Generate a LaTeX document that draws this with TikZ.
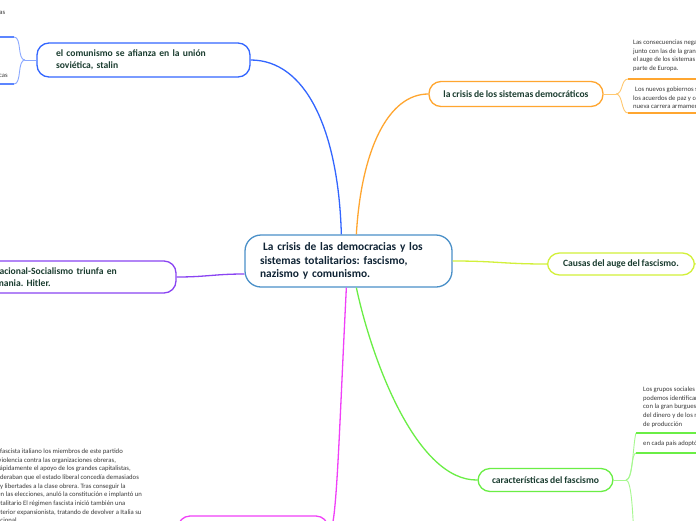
\documentclass[tikz,border=0pt]{standalone}
\usepackage{fontspec}
\setmainfont{Carlito}
\frenchspacing
\definecolor{centralblue}{HTML}{4A90C8}
\definecolor{centraltext}{HTML}{102435}
\definecolor{nodetext}{HTML}{1B3D30}
\definecolor{smalltext}{HTML}{3A3A3A}
\definecolor{cblue}{HTML}{3366FF}
\definecolor{cbluel}{HTML}{8AA8FF}
\definecolor{corange}{HTML}{FFA630}
\definecolor{corangel}{HTML}{FFC870}
\definecolor{cyellow}{HTML}{D2F03A}
\definecolor{cpurple}{HTML}{8A44F2}
\definecolor{cmagenta}{HTML}{F040F8}
\definecolor{cgreen}{HTML}{6AEE45}
\definecolor{cgreenl}{HTML}{A6F88F}
\tikzset{
  topic/.style={draw, fill=white, rounded corners=12pt, line width=1.3pt,
    font={\fontsize{9.6}{12}\selectfont\bfseries\spaceskip=0.19em\relax}, text=nodetext, inner ysep=0pt},
  smalltxt/.style={font=\fontsize{6.7}{8.7}\selectfont, text=smalltext, inner sep=0pt, align=left},
  conn/.style={line width=1.3pt},
  subconn/.style={line width=0.9pt},
  uline/.style={line width=2.6pt}
}
\begin{document}
\begin{tikzpicture}[x=1pt,y=-1pt]
\useasboundingbox (0,0) rectangle (696,520);
\fill[white] (0,0) rectangle (696,520);

% ---- nodes
\node[topic, draw=centralblue, rounded corners=16pt, font={\fontsize{11.4}{13.3}\selectfont\bfseries\spaceskip=0.21em\relax},
      text=centraltext, text width=177pt, inner xsep=15pt, minimum height=52pt, align=left]
      (central) at (348.5,261) {\hspace*{3pt}La crisis de las democracias y los\\sistemas totalitarios: fascismo,\\nazismo y comunismo.};

\node[topic, draw=cblue, text width=175pt, inner xsep=19pt, minimum height=34pt, align=left]
      (comm) at (143.5,60) {el comunismo se afianza en la unión\\soviética, stalin};

\node[topic, draw=corange, minimum width=174pt, minimum height=25pt, align=center]
      (dem) at (516,94) {la crisis de los sistemas democráticos};

\node[topic, draw=cyellow, minimum width=147pt, minimum height=22pt, align=center]
      (causas) at (621,264) {Causas del auge del fascismo.};

\node[topic, draw=cgreen, minimum width=135pt, minimum height=23pt, align=center]
      (carac) at (545.5,480) {características del fascismo};

\node[topic, draw=cpurple, text width=174pt, inner xsep=19pt, minimum height=32pt, align=left]
      (nazi) at (70,277) {El Nacional-Socialismo triunfa en\\Alemania. Hitler.};

\node[topic, draw=cmagenta, minimum width=150pt, minimum height=34pt]
      (ital) at (253,533) {};

% ---- main connectors
\draw[conn, cblue] ([xshift=97pt]central.north west) .. controls +(-3,-105) and +(55,0) .. (comm.east);
\draw[conn, corange] ([xshift=112pt]central.north west) .. controls +(5,-85) and +(-40,0) .. (dem.west);
\draw[conn, cyellow] (central.east) .. controls +(45,0) and +(-45,0) .. (causas.west);
\draw[conn, cpurple] ([yshift=-13pt]central.west) .. controls +(-30,0) and +(30,0) .. (nazi.east);
\draw[conn, cmagenta] ([xshift=102pt]central.south west) .. controls +(-8,160) and +(8,0) .. (ital.east);
\draw[conn, cgreen] ([xshift=112pt]central.south west) .. controls (373,365) and (418,481) .. (carac.west);

% ---- blue sub-branches
\coordinate (bj) at (25,60);
\coordinate (b1) at (14,37);
\coordinate (b2) at (14,84);
\coordinate (b1e) at (0,37);
\coordinate (b2e) at (0,84);
\draw[subconn, cbluel] (comm.west) -- (bj);
\draw[subconn, cbluel] (bj) .. controls +(-8,0) and +(8,0) .. (b1);
\draw[subconn, cbluel] (bj) .. controls +(-8,0) and +(8,0) .. (b2);
\draw[uline, cblue!80] (b1e) -- (b1);
\draw[uline, cblue!80] (b2e) -- (b2);
\node[smalltxt, anchor=base east] (t1) at (5.5,14) {económicas};
\node[smalltxt, anchor=base east] (t2) at (8,77) {políticas};

% ---- orange sub-branches
\coordinate (oj) at (616,94);
\coordinate (o1) at (628,79);
\coordinate (o2) at (628,113);
\coordinate (o1e) at (697,79);
\coordinate (o2e) at (697,113);
\draw[subconn, corangel] (dem.east) -- (oj);
\draw[subconn, corangel] (oj) .. controls +(7,0) and +(-7,0) .. (o1);
\draw[subconn, corangel] (oj) .. controls +(7,0) and +(-7,0) .. (o2);
\draw[uline, corange] (o1) -- (o1e);
\draw[uline, corange] (o2) -- (o2e);
\node[smalltxt, anchor=north west] (ot1) at (633,39.5)
  {Las consecuencias negativas de la guerra\\junto con las de la gran depresión\\el auge de los sistemas totalitarios en gran\\parte de Europa.};
\node[smalltxt, anchor=north west] (ot2) at (633,86.5)
  {\hspace*{2pt}Los nuevos gobiernos surgidos\\los acuerdos de paz y comenzaron\\nueva carrera armamentística};

% ---- yellow continuation
\coordinate (ye) at (700,263);
\draw[subconn, cyellow] (causas.east) -- (ye);

% ---- green sub-branches
\coordinate (gj) at (626,480);
\coordinate (g1) at (636,433);
\coordinate (g2) at (636,453);
\coordinate (g3) at (634,540);
\coordinate (g1e) at (697,433);
\coordinate (g2e) at (697,453);
\draw[subconn, cgreenl] (carac.east) -- (gj);
\draw[subconn, cgreenl] (gj) .. controls +(7,0) and +(-3,10) .. (g1);
\draw[subconn, cgreenl] (gj) .. controls +(7,0) and +(-5,0) .. (g2);
\draw[subconn, cgreenl] (gj) .. controls +(6,0) and +(-1,-20) .. (g3);
\draw[uline, cgreen] (g1) -- (g1e);
\draw[uline, cgreen] (g2) -- (g2e);
\node[smalltxt, anchor=north west] (gt1) at (643,386.5)
  {Los grupos sociales que\\podemos identificar\\con la gran burguesía\\del dinero y de los medios\\de producción};
\node[smalltxt, anchor=north west] (gt2) at (643,441) {en cada país adoptó};

% ---- bottom-left text (cut by the page edge)
\node[smalltxt, anchor=north west] (it) at (0,448.5)
  {fascista italiano los miembros de este partido\\
   \hspace*{-1.7pt}violencia contra las organizaciones obreras,\\
   \hspace*{-2.8pt}rápidamente el apoyo de los grandes capitalistas,\\
   \hspace*{-14pt}consideraban que el estado liberal concedía demasiados\\
   \hspace*{-26.5pt}derechos y libertades a la clase obrera. Tras conseguir la\\
   \hspace*{-2.8pt}en las elecciones, anuló la constitución e implantó un\\
   \hspace*{-5.5pt}totalitario El régimen fascista inició también una\\
   \hspace*{-6pt}exterior expansionista, tratando de devolver a Italia su\\
   \hspace*{-6.5pt}nacional};
\end{tikzpicture}
\end{document}
